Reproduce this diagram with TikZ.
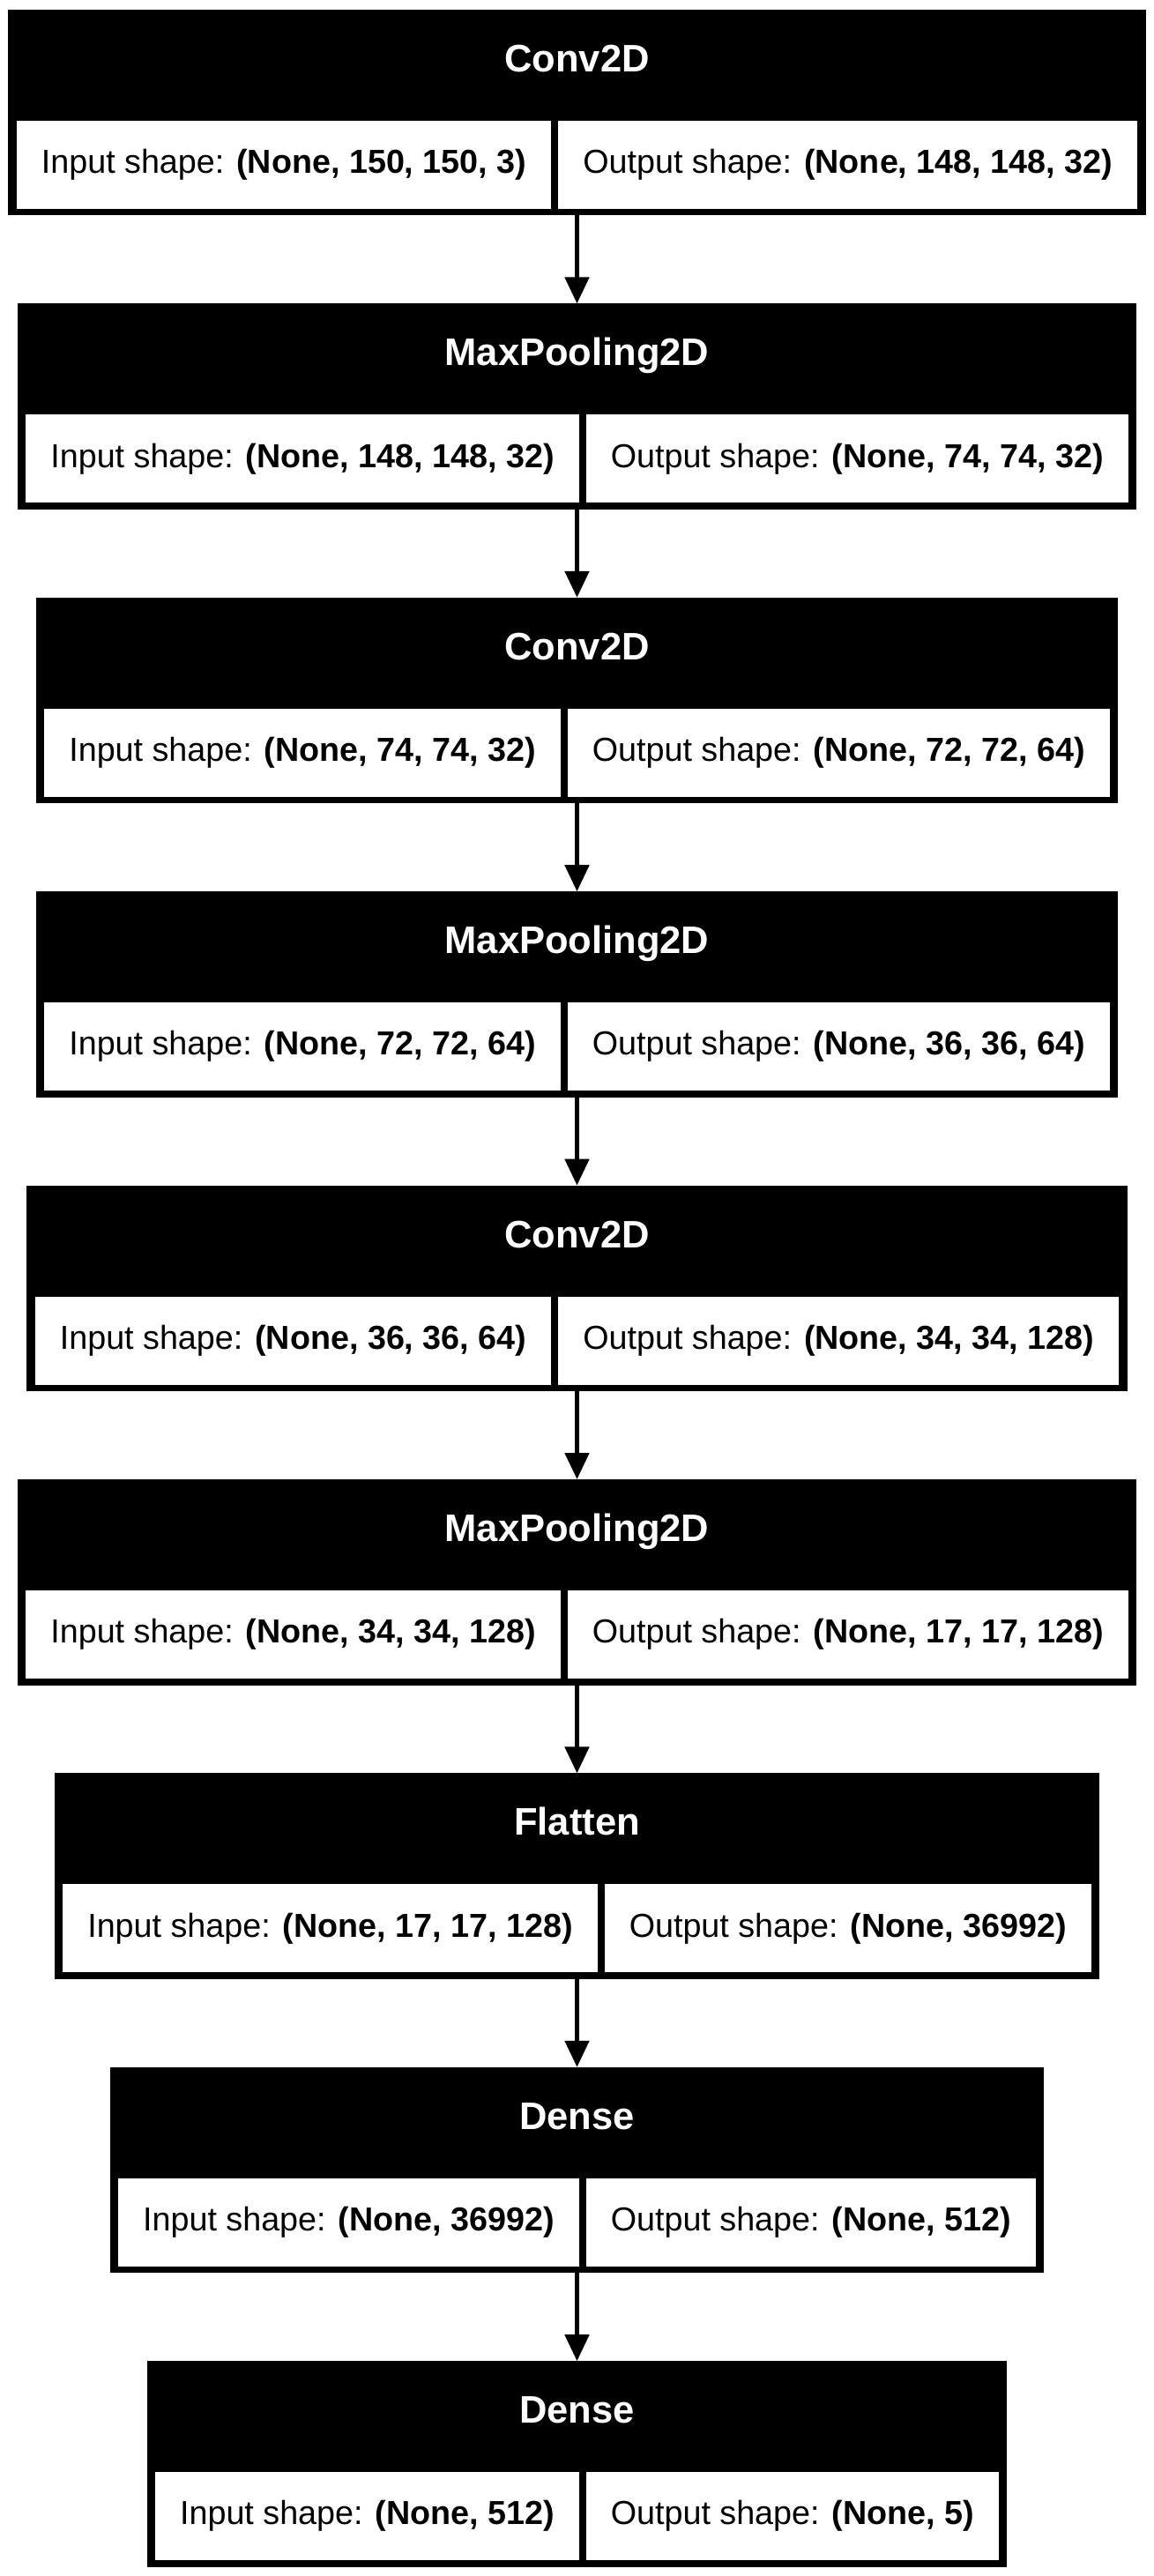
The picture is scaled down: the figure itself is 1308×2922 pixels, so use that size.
\documentclass[tikz,border=0pt]{standalone}
\usepackage{fontspec}
\setmainfont{Liberation Sans}
\usetikzlibrary{positioning, fit, backgrounds, arrows.meta}

\begin{document}
\begin{tikzpicture}[x=0.5pt, y=-0.5pt]
    % Styles
    \tikzstyle{shapecell} = [rectangle, fill=white, inner xsep=14pt, inner ysep=0pt, outer sep=0pt, minimum height=50pt, font=\fontsize{18.85}{22}\selectfont]
    \tikzstyle{shaperow} = [inner sep=0pt, outer sep=0pt, column sep=4pt, anchor=north]
    \tikzstyle{layertitle} = [inner sep=0pt, outer sep=0pt, text height=31.5pt, text depth=27.75pt, text=white, font=\fontsize{21.75}{26}\selectfont\bfseries]
    \tikzstyle{layerbox} = [rectangle, fill=black, inner xsep=4.75pt, inner ysep=3.75pt, outer sep=0pt]
    \tikzstyle{flow} = [draw, -{Triangle[length=15pt, width=13.5pt]}, line width=2.5pt]

    \useasboundingbox (0,0) rectangle (1308,2922);

    % Layer 1: Conv2D
    \matrix[shaperow] (conv1row) at (654.5,137) {
        \node[shapecell] (conv1in) {Input shape: \textbf{(None, 150, 150, 3)}}; &
        \node[shapecell] (conv1out) {Output shape: \textbf{(None, 148, 148, 32)}}; \\
    };
    \node[layertitle, above=0pt of conv1row.north] (conv1) {Conv2D};

    % Layer 2: MaxPooling2D
    \matrix[shaperow] (pool1row) at (654.5,470.4) {
        \node[shapecell] (pool1in) {Input shape: \textbf{(None, 148, 148, 32)}}; &
        \node[shapecell] (pool1out) {Output shape: \textbf{(None, 74, 74, 32)}}; \\
    };
    \node[layertitle, above=0pt of pool1row.north] (pool1) {MaxPooling2D};

    % Layer 3: Conv2D
    \matrix[shaperow] (conv2row) at (654.5,803.8) {
        \node[shapecell] (conv2in) {Input shape: \textbf{(None, 74, 74, 32)}}; &
        \node[shapecell] (conv2out) {Output shape: \textbf{(None, 72, 72, 64)}}; \\
    };
    \node[layertitle, above=0pt of conv2row.north] (conv2) {Conv2D};

    % Layer 4: MaxPooling2D
    \matrix[shaperow] (pool2row) at (654.5,1137.2) {
        \node[shapecell] (pool2in) {Input shape: \textbf{(None, 72, 72, 64)}}; &
        \node[shapecell] (pool2out) {Output shape: \textbf{(None, 36, 36, 64)}}; \\
    };
    \node[layertitle, above=0pt of pool2row.north] (pool2) {MaxPooling2D};

    % Layer 5: Conv2D
    \matrix[shaperow] (conv3row) at (654.5,1470.6) {
        \node[shapecell] (conv3in) {Input shape: \textbf{(None, 36, 36, 64)}}; &
        \node[shapecell] (conv3out) {Output shape: \textbf{(None, 34, 34, 128)}}; \\
    };
    \node[layertitle, above=0pt of conv3row.north] (conv3) {Conv2D};

    % Layer 6: MaxPooling2D
    \matrix[shaperow] (pool3row) at (654.5,1804) {
        \node[shapecell] (pool3in) {Input shape: \textbf{(None, 34, 34, 128)}}; &
        \node[shapecell] (pool3out) {Output shape: \textbf{(None, 17, 17, 128)}}; \\
    };
    \node[layertitle, above=0pt of pool3row.north] (pool3) {MaxPooling2D};

    % Layer 7: Flatten
    \matrix[shaperow] (flatrow) at (654.5,2137.4) {
        \node[shapecell] (flatin) {Input shape: \textbf{(None, 17, 17, 128)}}; &
        \node[shapecell] (flatout) {Output shape: \textbf{(None, 36992)}}; \\
    };
    \node[layertitle, above=0pt of flatrow.north] (flat) {Flatten};

    % Layer 8: Dense
    \matrix[shaperow] (dense1row) at (654.5,2470.8) {
        \node[shapecell] (dense1in) {Input shape: \textbf{(None, 36992)}}; &
        \node[shapecell] (dense1out) {Output shape: \textbf{(None, 512)}}; \\
    };
    \node[layertitle, above=0pt of dense1row.north] (dense1) {Dense};

    % Layer 9: Dense
    \matrix[shaperow] (dense2row) at (654.5,2804.2) {
        \node[shapecell] (dense2in) {Input shape: \textbf{(None, 512)}}; &
        \node[shapecell] (dense2out) {Output shape: \textbf{(None, 5)}}; \\
    };
    \node[layertitle, above=0pt of dense2row.north] (dense2) {Dense};

    % Frames
    \begin{scope}[on background layer]
        \node[layerbox, fit=(conv1row)(conv1)] (conv1box) {};
        \node[layerbox, fit=(pool1row)(pool1)] (pool1box) {};
        \node[layerbox, fit=(conv2row)(conv2)] (conv2box) {};
        \node[layerbox, fit=(pool2row)(pool2)] (pool2box) {};
        \node[layerbox, fit=(conv3row)(conv3)] (conv3box) {};
        \node[layerbox, fit=(pool3row)(pool3)] (pool3box) {};
        \node[layerbox, fit=(flatrow)(flat)] (flatbox) {};
        \node[layerbox, fit=(dense1row)(dense1)] (dense1box) {};
        \node[layerbox, fit=(dense2row)(dense2)] (dense2box) {};
    \end{scope}

    % Paths
    \draw [flow] (conv1box) -- (pool1box);
    \draw [flow] (pool1box) -- (conv2box);
    \draw [flow] (conv2box) -- (pool2box);
    \draw [flow] (pool2box) -- (conv3box);
    \draw [flow] (conv3box) -- (pool3box);
    \draw [flow] (pool3box) -- (flatbox);
    \draw [flow] (flatbox) -- (dense1box);
    \draw [flow] (dense1box) -- (dense2box);

\end{tikzpicture}
\end{document}
